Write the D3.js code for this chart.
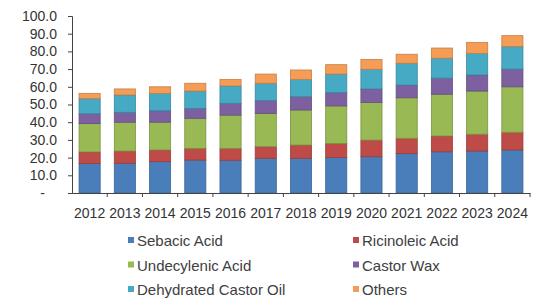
<!DOCTYPE html>
<html>
<head>
<meta charset="utf-8">
<script src="https://cdn.jsdelivr.net/npm/d3@7"></script>
<style>
  html, body { margin: 0; padding: 0; background: #fff; overflow: hidden; }
  svg { display: block; overflow: visible; }
  #chart text { font-family: "Liberation Sans", Arial, sans-serif; }
</style>
</head>
<body>
<div id="chart"></div>
<script>
const width = 535,
      height = 300,
      margin = { top: 16, right: 5, bottom: 107, left: 72 };

const innerWidth = width - (margin.right + margin.left),
      innerHeight = height - (margin.top + margin.bottom);

// data
const years = ['2012','2013','2014','2015','2016','2017','2018','2019','2020','2021','2022','2023','2024'],
      seriesNames = ['Sebacic Acid', 'Ricinoleic Acid', 'Undecylenic Acid', 'Castor Wax', 'Dehydrated Castor Oil', 'Others'],
      sebacic     = [16.7, 16.8, 17.7, 18.6, 18.5, 19.6, 19.6, 20.0, 20.5, 22.3, 23.3, 23.7, 24.3],
      ricinoleic  = [6.5, 6.9, 6.6, 6.6, 6.7, 6.6, 7.5, 8.0, 9.4, 8.6, 8.9, 9.5, 10.0],
      undecylenic = [16.0, 16.3, 15.7, 17.0, 18.8, 18.8, 19.8, 21.2, 21.3, 22.9, 23.6, 24.4, 25.7],
      castorWax   = [5.6, 5.6, 6.5, 5.6, 6.7, 7.2, 7.5, 7.5, 7.6, 7.2, 9.1, 9.1, 10.0],
      dehydrated  = [8.5, 9.8, 9.8, 9.8, 9.8, 9.8, 9.8, 10.5, 11.1, 12.3, 11.3, 12.2, 12.7],
      others      = [3.0, 3.4, 3.7, 4.4, 3.7, 5.2, 5.3, 5.3, 5.6, 5.1, 5.7, 6.2, 6.2],
      yTicks = [0, 10, 20, 30, 40, 50, 60, 70, 80, 90, 100];

const seriesValues = [sebacic, ricinoleic, undecylenic, castorWax, dehydrated, others];

const data = years.map(function(year, i) {
  const row = { year: year };
  seriesNames.forEach((name, j) => { row[name] = seriesValues[j][i]; });
  return row;
});

const svg = d3.select('#chart').append('svg')
    .attr('width', width)
    .attr('height', height);

const plot = svg.append('g')
    .attr('transform', `translate(${margin.left}, ${margin.top})`);

const xScale = d3.scaleBand()
    .domain(years)
    .range([0, innerWidth])
    .paddingInner(0.4)
    .paddingOuter(0.2),
  yScale = d3.scaleLinear()
    .domain([0, 100])
    .range([innerHeight, 0]),
  zScale = d3.scaleOrdinal()
    .domain(seriesNames)
    .range(['#4a7ebb', '#be4b48', '#98b954', '#7d60a0', '#46aac5', '#f59d56']);

const stacked = d3.stack().keys(seriesNames)(data);

const barG = plot.selectAll('.barG')
    .data(stacked)
    .enter().append('g')
    .attr('class', 'barG')
    .attr('fill', d => zScale(d.key))
    .attr('stroke', d => d3.color(zScale(d.key)).darker(0.6))
    .attr('stroke-width', 0.8);

barG.selectAll('rect')
    .data(d => d)
    .enter().append('rect')
      .attr('x', d => xScale(d.data.year))
      .attr('y', d => yScale(d[1]))
      .attr('width', xScale.bandwidth())
      .attr('height', d => yScale(d[0]) - yScale(d[1]));

// y axis
const yAxis = plot.append('g')
    .call(d3.axisLeft(yScale)
      .tickValues(yTicks)
      .tickSize(4)
      .tickPadding(11)
      .tickFormat(d => d === 0 ? '-' : d3.format('.1f')(d)));

yAxis.attr('font-size', 14);
yAxis.selectAll('text')
    .attr('fill', '#333')
    .attr('dx', d => d === 0 ? -12 : 0);
yAxis.selectAll('line, path').attr('stroke', '#444');

// x axis: labels under bars, ticks between categories
const xAxis = plot.append('g')
    .attr('transform', `translate(0, ${innerHeight})`)
    .call(d3.axisBottom(xScale).tickSize(0).tickPadding(15).tickSizeOuter(0));

xAxis.attr('font-size', 14);
xAxis.selectAll('text')
    .attr('fill', '#333');
xAxis.select('.domain').attr('stroke', '#444');

const gap = xScale.step() - xScale.bandwidth();
xAxis.selectAll('.sep')
    .data(years)
    .enter().append('line')
      .attr('class', 'sep')
      .attr('x1', d => xScale(d) + xScale.bandwidth() + gap / 2)
      .attr('x2', d => xScale(d) + xScale.bandwidth() + gap / 2)
      .attr('y1', 0)
      .attr('y2', 4)
      .attr('stroke', '#444');

// legend
const legend = svg.append('g')
    .attr('transform', 'translate(128, 241)');

const item = legend.selectAll('.item')
    .data(seriesNames)
    .enter().append('g')
    .attr('class', 'item')
    .attr('transform', (d, i) => `translate(${(i % 2) * 225}, ${Math.floor(i / 2) * 24.5})`);

item.append('rect')
    .attr('x', 0)
    .attr('y', -4)
    .attr('width', 6)
    .attr('height', 6)
    .attr('fill', d => zScale(d));

item.append('text')
    .attr('x', 9)
    .attr('y', 5)
    .attr('font-size', 15)
    .attr('fill', '#404040')
    .text(d => d);
</script>
</body>
</html>
